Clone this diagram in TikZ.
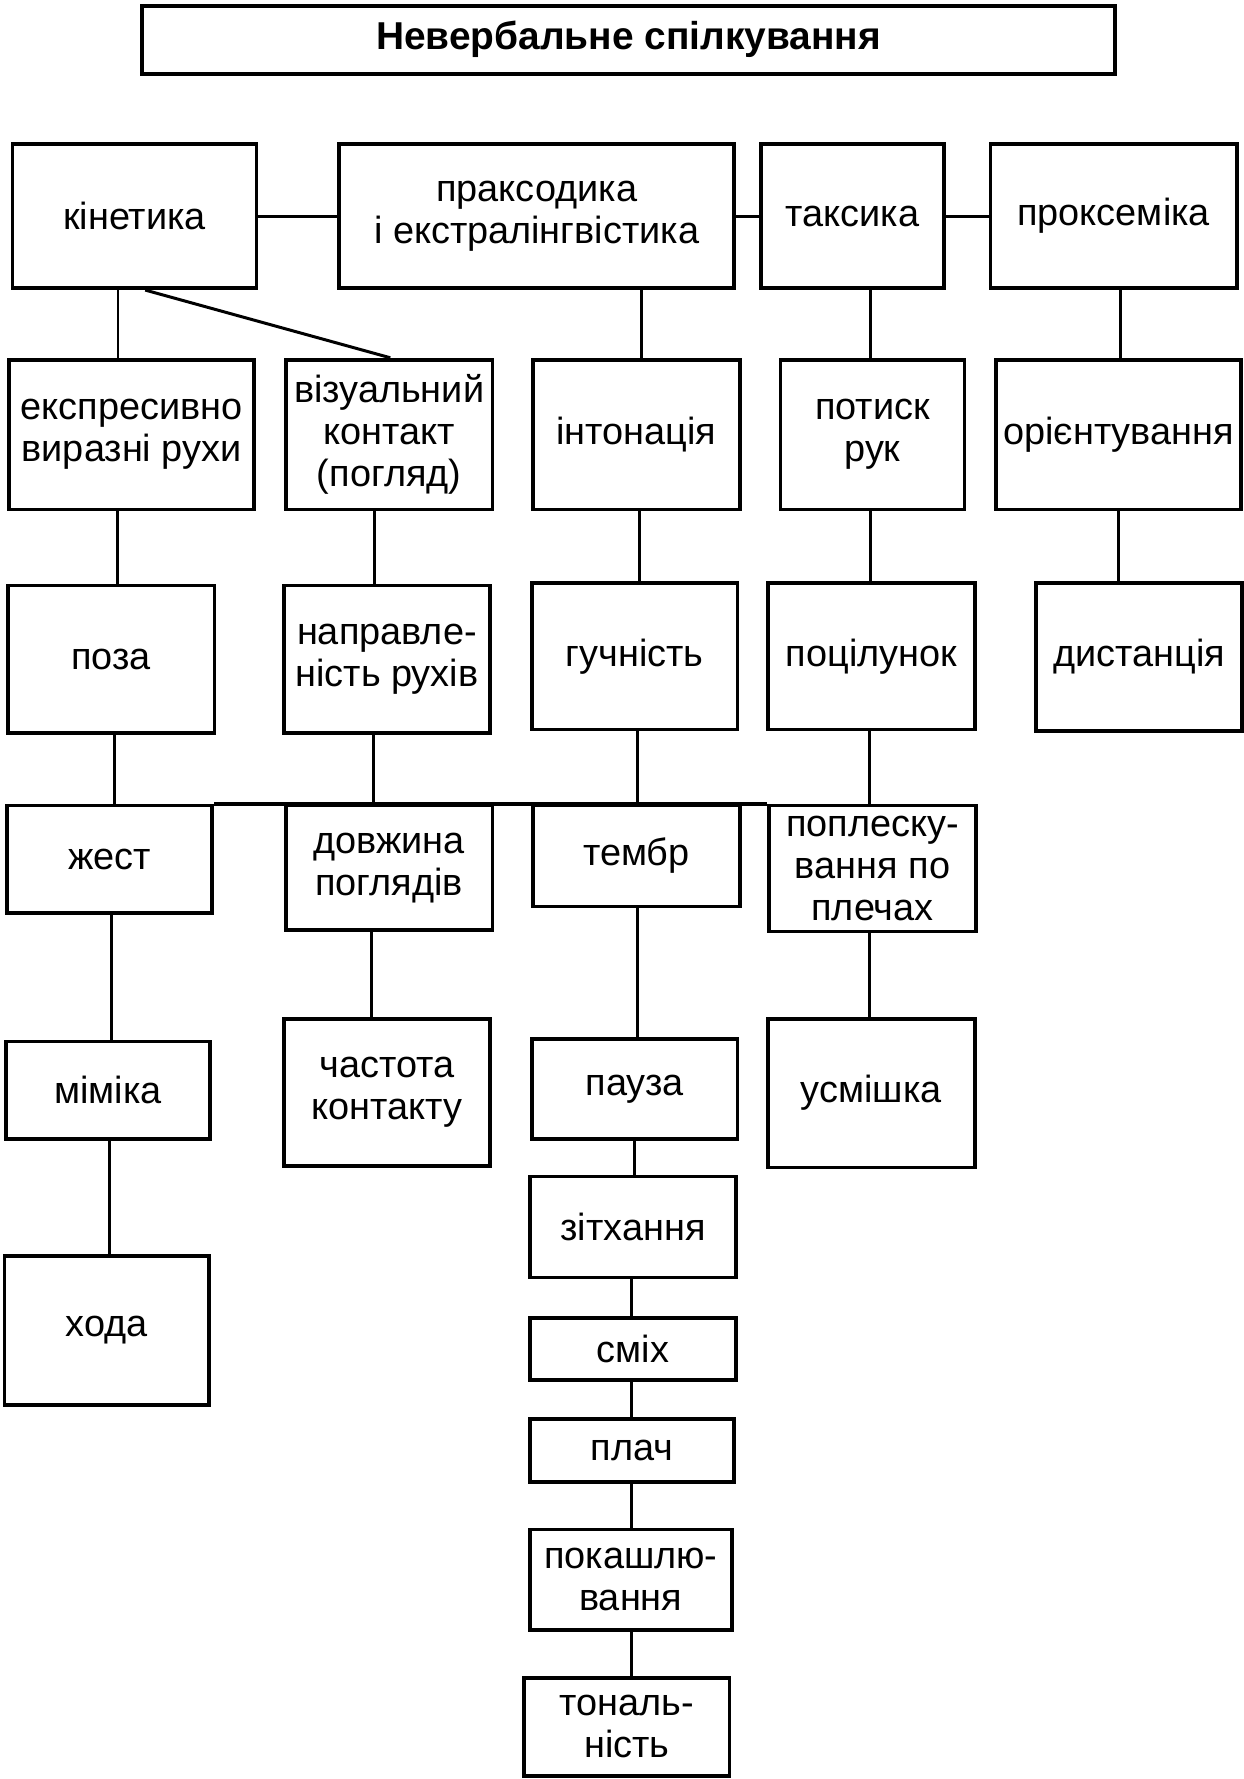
\documentclass[tikz,border=0pt]{standalone}
\usepackage{fontspec}
\setmainfont{Liberation Sans}
\begin{document}
\begin{tikzpicture}[x=0.02cm,y=-0.02cm,
    blok/.style={draw, line width=1.9pt, align=center, inner sep=0pt,
      font=\fontsize{19}{21}\selectfont},
    sz/.style 2 args={minimum width=#1*0.02cm, minimum height=#2*0.02cm},
    lin/.style={line width=1.5pt}]
\useasboundingbox (0,0) rectangle (1096,1568);

\node[blok, sz={858}{60}, font=\fontsize{19.5}{21}\selectfont\bfseries] (title) at (554,35) {Невербальне спілкування};

% перший ряд
\node[blok, sz={215}{127}] (kin) at (118.5,190.5) {кінетика};
\node[blok, sz={348}{127}] (prak) at (473,190.5) {праксодика\\і екстралінгвістика};
\node[blok, sz={161}{127}] (taks) at (751.5,190.5) {таксика};
\node[blok, sz={217}{127}] (proks) at (981.5,190.5) {проксеміка};

% другий ряд
\node[blok, sz={216}{132}] (ekspr) at (116,383) {експресивно\\виразні рухи};
\node[blok, sz={182}{132}] (viz) at (343,383) {візуальний\\контакт\\(погляд)};
\node[blok, sz={182}{132}] (inton) at (561,383) {інтонація};
\node[blok, sz={162}{132}] (potysk) at (769,383) {потиск\\рук};
\node[blok, sz={216}{132}] (orient) at (986,383) {орієнтування};

% третій ряд
\node[blok, sz={182}{130}] (poza) at (98,581) {поза};
\node[blok, sz={182}{130}] (naprav) at (341,581) {направле-\\ність рухів};
\node[blok, sz={181}{129}] (guch) at (559.5,578.5) {гучність};
\node[blok, sz={182}{129}] (potsil) at (768,578.5) {поцілунок};
\node[blok, sz={182}{130}] (dyst) at (1004,579) {дистанція};

% четвертий ряд
\node[blok, sz={181}{95}] (zhest) at (96.5,757.5) {жест};
\node[blok, sz={182}{110}] (dovzh) at (343,765) {довжина\\поглядів};
\node[blok, sz={182}{89}] (tembr) at (561,754.5) {тембр};
\node[blok, sz={182}{111}] (poplesk) at (769,765.5) {поплеску-\\вання по\\плечах};

% п'ятий ряд
\node[blok, sz={180}{86}] (mimika) at (95,961) {міміка};
\node[blok, sz={182}{130}] (chast) at (341,963) {частота\\контакту};
\node[blok, sz={181}{88}] (pauza) at (559.5,960) {пауза};
\node[blok, sz={182}{131}] (usmish) at (768,963.5) {усмішка};

% нижче
\node[blok, sz={180}{131}] (khoda) at (94,1172.5) {хода};
\node[blok, sz={182}{89}] (zitkh) at (558,1081.5) {зітхання};
\node[blok, sz={182}{54}] (smikh) at (558,1189) {сміх};
\node[blok, sz={180}{55}] (plach) at (557,1278.5) {плач};
\node[blok, sz={178}{89}] (pokash) at (556,1392.5) {покашлю-\\вання};
\node[blok, sz={181}{86}] (tonal) at (552.5,1522) {тональ-\\ність};

% лінії
\draw[lin] (kin) -- (prak);
\draw[lin] (prak) -- (taks);
\draw[lin] (taks) -- (proks);
\draw[lin] (kin.south -| 104,0) -- (ekspr.north -| 104,0);
\draw[lin] (kin.south -| 128,0) -- (viz.north -| 344,0);
\draw[lin] (prak.south -| 565,0) -- (inton.north -| 565,0);
\draw[lin] (taks.south -| 767,0) -- (potysk.north -| 767,0);
\draw[lin] (proks.south -| 988,0) -- (orient.north -| 988,0);

\draw[lin] (ekspr.south -| 103.5,0) -- (poza.north -| 103.5,0);
\draw[lin] (viz.south -| 330,0) -- (naprav.north -| 330,0);
\draw[lin] (inton.south -| 564,0) -- (guch.north -| 564,0);
\draw[lin] (potysk.south -| 767,0) -- (potsil.north -| 767,0);
\draw[lin] (orient.south -| 986,0) -- (dyst.north -| 986,0);

\draw[lin] (poza.south -| 101,0) -- (zhest.north -| 101,0);
\draw[lin] (naprav.south -| 329,0) -- (dovzh.north -| 329,0);
\draw[lin] (guch.south -| 562,0) -- (tembr.north -| 562,0);
\draw[lin] (potsil.south -| 766,0) -- (poplesk.north -| 766,0);
\draw[line width=1.9pt] (zhest.north east) -- (poplesk.north west);

\draw[lin] (zhest.south -| 98,0) -- (mimika.north -| 98,0);
\draw[lin] (dovzh.south -| 327,0) -- (chast.north -| 327,0);
\draw[lin] (tembr.south -| 562,0) -- (pauza.north -| 562,0);
\draw[lin] (poplesk.south -| 766,0) -- (usmish.north -| 766,0);

\draw[lin] (mimika.south -| 96.5,0) -- (khoda.north -| 96.5,0);
\draw[lin] (pauza.south -| 559.5,0) -- (zitkh.north -| 559.5,0);
\draw[lin] (zitkh.south -| 557,0) -- (smikh.north -| 557,0);
\draw[lin] (smikh.south -| 557,0) -- (plach.north -| 557,0);
\draw[lin] (plach.south -| 557,0) -- (pokash.north -| 557,0);
\draw[lin] (pokash.south -| 557,0) -- (tonal.north -| 557,0);
\end{tikzpicture}
\end{document}
